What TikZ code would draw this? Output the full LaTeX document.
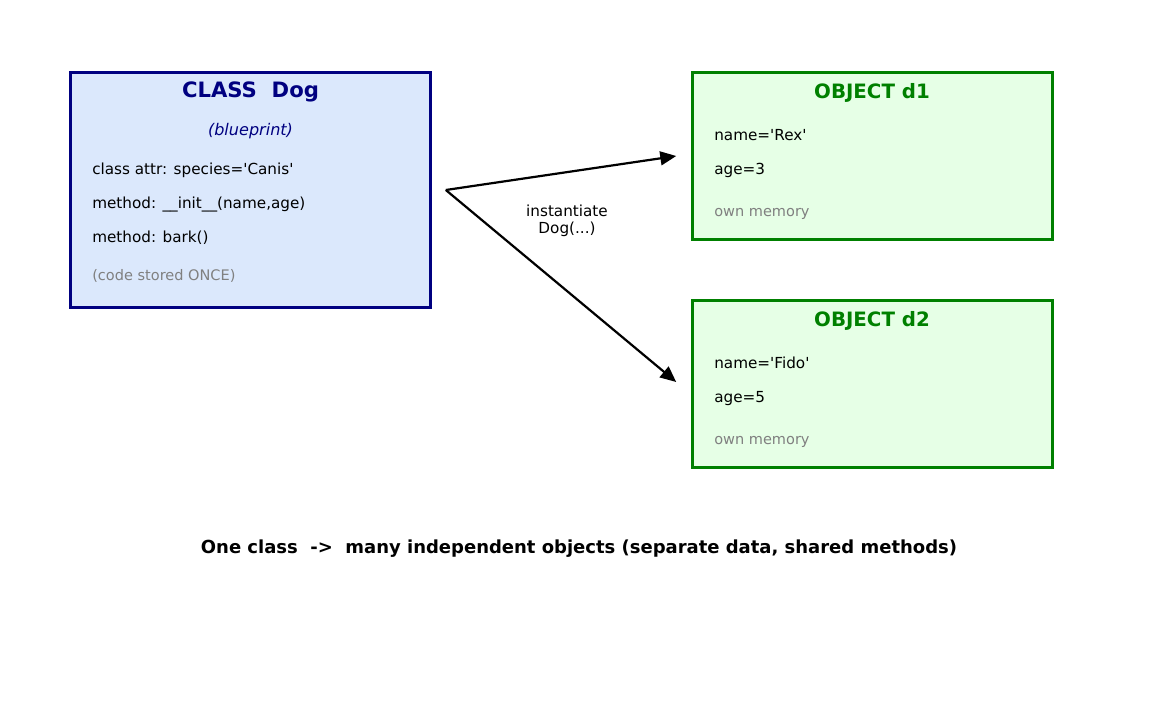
\documentclass[tikz,border=0pt]{standalone}
\usepackage{fontspec}
\setmainfont{DejaVu Sans}
\usetikzlibrary{arrows.meta}

\definecolor{clsborder}{RGB}{0,0,128}
\definecolor{clsfill}{RGB}{219,232,252}
\definecolor{objborder}{RGB}{0,128,0}
\definecolor{objfill}{RGB}{230,255,230}
\definecolor{notegray}{RGB}{128,128,128}
\newcommand{\q}{\textquotesingle}

\begin{document}
\begin{tikzpicture}[
  x=0.254mm, y=-0.254mm,
  classbox/.style={draw=clsborder,fill=clsfill,line width=2.2pt,
    minimum width=259.9pt,minimum height=169.9pt,inner sep=0pt},
  objbox/.style={draw=objborder,fill=objfill,line width=2.2pt,
    minimum width=259.9pt,minimum height=121pt,inner sep=0pt},
  boxtitle/.style={anchor=base,font=\fontsize{14.3}{16}\selectfont\bfseries,inner sep=0pt},
  entry/.style={anchor=base west,font=\fontsize{11}{13}\selectfont,inner sep=0pt},
  note/.style={anchor=base west,font=\fontsize{10.5}{12}\selectfont,text=notegray,inner sep=0pt},
  make/.style={line width=1.6pt,-{Triangle[length=11.5pt,width=10pt]}}
]
  \useasboundingbox (0,0) rectangle (1156,702);

  % the class
  \node[classbox] (cls) at (250.5,190) {};
  \node[boxtitle,font=\fontsize{15.3}{17}\selectfont\bfseries,text=clsborder]
    (clstitle) at (250.5,97.3) {CLASS\ \ Dog};
  \node[anchor=base,font=\fontsize{11.6}{13}\selectfont\itshape,text=clsborder,inner sep=0pt]
    (clssub) at (250.5,135) {(blueprint)};
  \node[entry] (attr) at (92,174.3) {class attr: species=\q Canis\q};
  \node[entry] (init) at (92,208) {method: \_\_init\_\_(name,age)};
  \node[entry] (bark) at (92,242) {method: bark()};
  \node[note] (once) at (92,280) {(code stored ONCE)};

  % the objects
  \node[objbox] (d1) at (872.5,156) {};
  \node[boxtitle,text=objborder] (d1title) at (872,98.3) {OBJECT d1};
  \node[entry] (d1name) at (714,140) {name=\q Rex\q};
  \node[entry] (d1age) at (714,174) {age=3};
  \node[note] (d1mem) at (714,216) {own memory};

  \node[objbox] (d2) at (872.5,384) {};
  \node[boxtitle,text=objborder] (d2title) at (872,326.3) {OBJECT d2};
  \node[entry] (d2name) at (714,368) {name=\q Fido\q};
  \node[entry] (d2age) at (714,402) {age=5};
  \node[note] (d2mem) at (714,444) {own memory};

  % instantiation
  \coordinate (fork) at ([xshift=10.1pt]cls.east);
  \coordinate (d1in) at ([xshift=-10.8pt]d1.west);
  \coordinate (d2in) at ([xshift=-10.8pt,yshift=1.44pt]d2.west);
  \draw[make] (fork) -- (d1in);
  \draw[make] (fork) -- (d2in);
  \node[align=center,font=\fontsize{11}{13}\selectfont,inner sep=0pt]
    (inst) at (567,221) {instantiate\\[-1pt]Dog(...)};

  \node[anchor=base,font=\fontsize{13}{15}\selectfont\bfseries,inner sep=0pt]
    (summary) at (579,553.3) {One class\ \ ->\ \ many independent objects (separate data, shared methods)};
\end{tikzpicture}
\end{document}
